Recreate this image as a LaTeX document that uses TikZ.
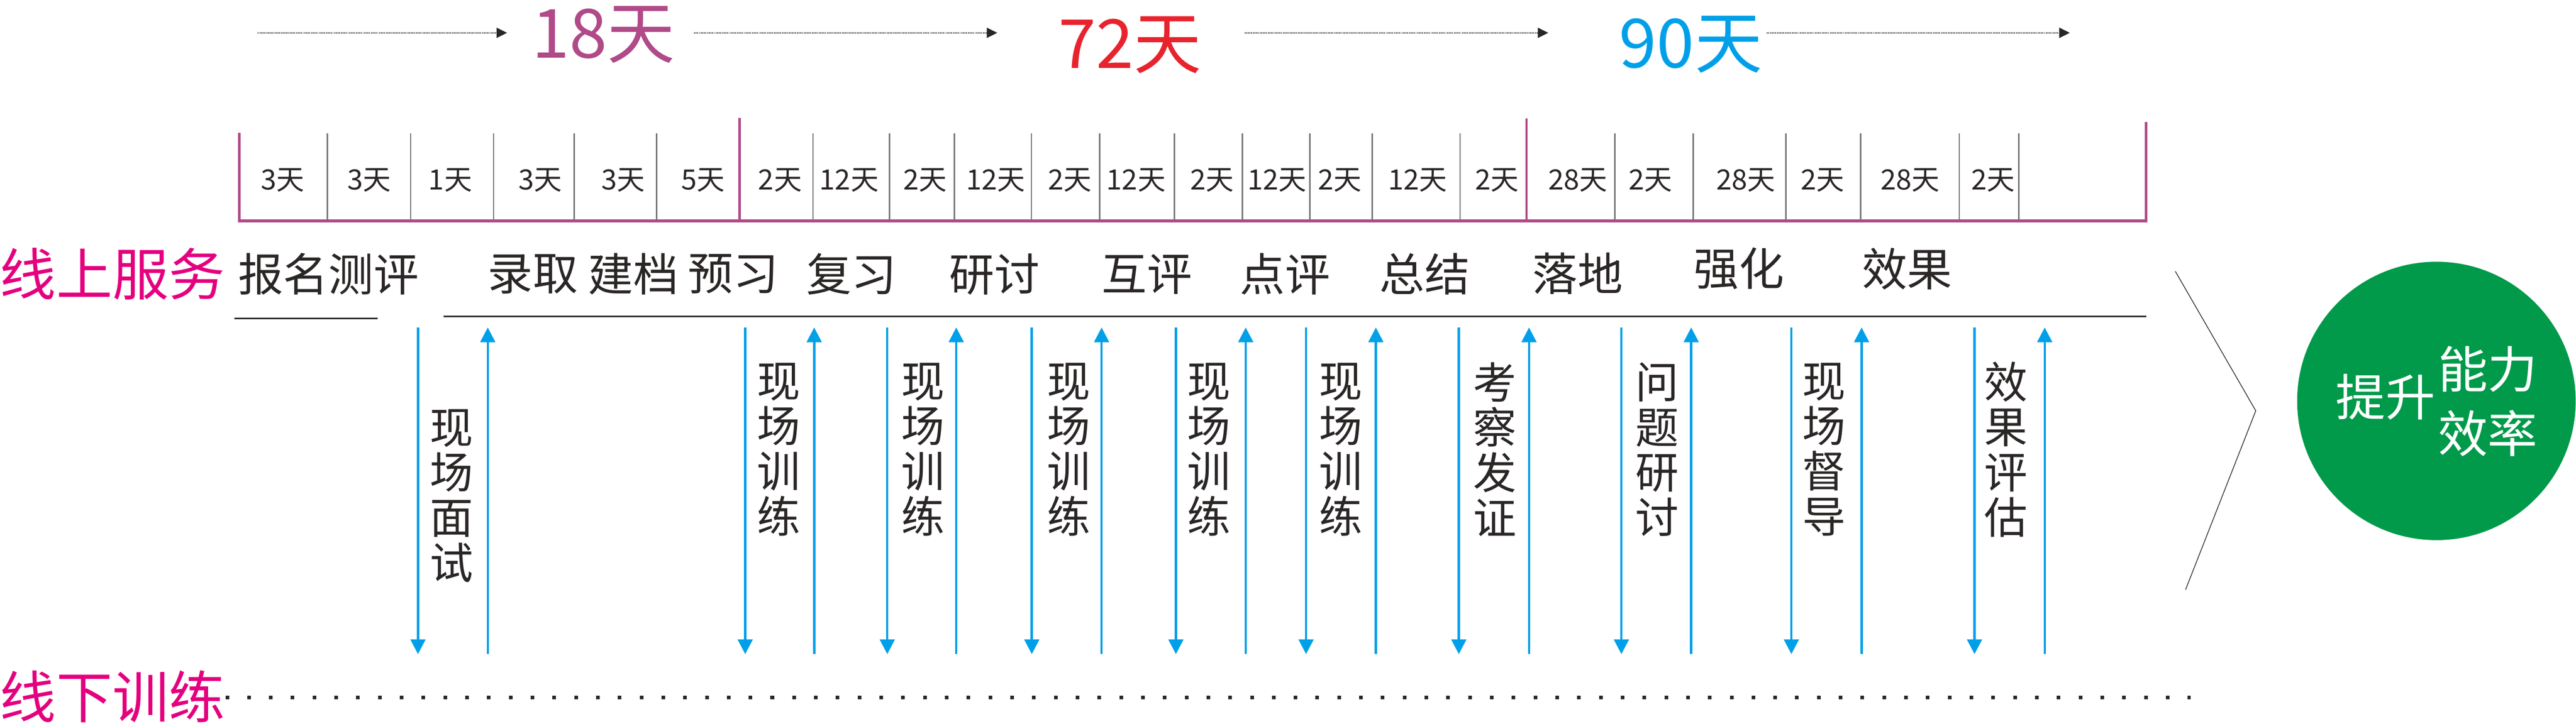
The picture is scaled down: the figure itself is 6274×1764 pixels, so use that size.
\documentclass[tikz,border=0pt]{standalone}
\usepackage{fontspec}
\setmainfont{Noto Sans CJK SC}
\usepackage{tikz}
\usetikzlibrary{arrows.meta}
\definecolor{stagepurple}{HTML}{B04A88}
\definecolor{rosered}{HTML}{E4007F}
\definecolor{dayred}{HTML}{E8232E}
\definecolor{skyblue}{HTML}{00A0E9}
\definecolor{inkgray}{HTML}{2B2626}
\definecolor{tickgray}{HTML}{777777}
\definecolor{leafgreen}{HTML}{009A4A}

\begin{document}
\begin{tikzpicture}[x=0.01cm,y=-0.01cm,
  every node/.style={inner sep=0pt,text=inkgray},
  daycount/.style={font=\fontsize{47}{50}\selectfont},
  headword/.style={text=rosered,font=\fontsize{39}{42}\selectfont},
  stageword/.style={font=\fontsize{31.3}{34}\selectfont},
  dayslot/.style={font=\fontsize{19.4}{22}\selectfont},
  vtext/.style={align=center,font=\fontsize{30}{31.3}\selectfont},
  goalword/.style={text=white,font=\fontsize{34.5}{37}\selectfont},
  timeline/.style={draw=inkgray,line width=0.65pt,dash pattern=on 0.7pt off 0.45pt,
    -{Triangle[length=7.3pt,width=7.1pt]}},
  godown/.style={draw=skyblue,line width=1.6pt,-{Triangle[length=10.2pt,width=10.2pt]}},
  goup/.style={godown},
  tick/.style={draw=tickgray,line width=1pt},
  bar/.style={draw=stagepurple,line width=1.6pt},
  rule/.style={draw=inkgray,line width=1pt}]
 \useasboundingbox (0,0) rectangle (6274,1764);

 % day counts and timeline
 \draw (1470,84) node[daycount,text=stagepurple] (d18) {18天};
 \draw (2752,110) node[daycount,text=dayred] (d72) {72天};
 \draw (4118,108) node[daycount,text=skyblue] (d90) {90天};
 \coordinate (ta) at (628,80);  \coordinate (tb) at (1235,80);
 \coordinate (tc) at (1690,80); \coordinate (td) at (2429,80);
 \coordinate (te) at (3031,80); \coordinate (tf) at (3771,80);
 \coordinate (tg) at (4303,80); \coordinate (th) at (5041,80);
 \draw[timeline] (ta) -- (tb);
 \draw[timeline] (tc) -- (td);
 \draw[timeline] (te) -- (tf);
 \draw[timeline] (tg) -- (th);

 % bracket of days
 \foreach \xg in {797,1000,1202,1398,1599,1980,2166,2324,2512,2678,2860,3026,3190,3342,3556,3933,4124,4350,4532,4772,4917}
   \draw[tick] (\xg,325) -- (\xg,536);
 \draw[bar] (583,324) -- (583,536);
 \draw[bar] (1801,287) -- (1801,536);
 \draw[bar] (3718,288) -- (3718,536);
 \draw[bar] (5227,298) -- (5227,536);
 \draw[stagepurple,line width=2.3pt] (580,538) -- (5230,538);

 \draw (689,439) node[dayslot] (s1) {3天};
 \draw (899,439) node[dayslot] (s2) {3天};
 \draw (1097,439) node[dayslot] (s3) {1天};
 \draw (1316,439) node[dayslot] (s4) {3天};
 \draw (1518,439) node[dayslot] (s5) {3天};
 \draw (1712,439) node[dayslot] (s6) {5天};
 \draw (1900,439) node[dayslot] (s7) {2天};
 \draw (2068,439) node[dayslot] (s8) {12天};
 \draw (2253,439) node[dayslot] (s9) {2天};
 \draw (2425,439) node[dayslot] (s10) {12天};
 \draw (2606,439) node[dayslot] (s11) {2天};
 \draw (2767,439) node[dayslot] (s12) {12天};
 \draw (2952,439) node[dayslot] (s13) {2天};
 \draw (3110,439) node[dayslot] (s14) {12天};
 \draw (3263,439) node[dayslot] (s15) {2天};
 \draw (3453,439) node[dayslot] (s16) {12天};
 \draw (3646,439) node[dayslot] (s17) {2天};
 \draw (3843,439) node[dayslot] (s18) {28天};
 \draw (4020,439) node[dayslot] (s19) {2天};
 \draw (4252,439) node[dayslot] (s20) {28天};
 \draw (4439,439) node[dayslot] (s21) {2天};
 \draw (4652,439) node[dayslot] (s22) {28天};
 \draw (4854,439) node[dayslot] (s23) {2天};

 % online steps
 \draw (274,668) node[headword] (online) {线上服务};
 \draw (800,668) node[stageword] (baoming) {报名测评};
 \draw (1298,668) node[stageword] (luqu) {录取};
 \draw (1543,668) node[stageword] (jiandang) {建档};
 \draw (1786,668) node[stageword] (yuxi) {预习};
 \draw (2074,668) node[stageword] (fuxi) {复习};
 \draw (2422,668) node[stageword] (yantao) {研讨};
 \draw (2794,668) node[stageword] (huping) {互评};
 \draw (3130,668) node[stageword] (dianping) {点评};
 \draw (3470,668) node[stageword] (zongjie) {总结};
 \draw (3843,667) node[stageword] (luodi) {落地};
 \draw (4235,655) node[stageword] (qianghua) {强化};
 \draw (4645,655) node[stageword] (xiaoguo) {效果};
 \draw[rule] (571,776) -- (920,776);
 \draw[rule] (1080,771) -- (5227,771);

 % offline training
 \foreach \dn/\up [count=\i] in {1018/1188,1815/1983,2161/2329,2513/2683,2864/3034,3181/3351,3553/3724,3949/4119,4363/4534,4809/4980} {
   \coordinate (dtop\i) at (\dn,798); \coordinate (dbot\i) at (\dn,1594);
   \coordinate (utop\i) at (\up,798); \coordinate (ubot\i) at (\up,1594);
   \draw[godown] (dtop\i) -- (dbot\i);
   \draw[goup] (ubot\i) -- (utop\i);
 }
 \draw (1100,1208) node[vtext] (mianshi) {现\\场\\面\\试};
 \draw (1897,1095) node[vtext] (xunlian1) {现\\场\\训\\练};
 \draw (2248,1095) node[vtext] (xunlian2) {现\\场\\训\\练};
 \draw (2603,1095) node[vtext] (xunlian3) {现\\场\\训\\练};
 \draw (2944,1095) node[vtext] (xunlian4) {现\\场\\训\\练};
 \draw (3266,1095) node[vtext] (xunlian5) {现\\场\\训\\练};
 \draw (3641,1095) node[vtext] (kaocha) {考\\察\\发\\证};
 \draw (4036,1095) node[vtext] (wenti) {问\\题\\研\\讨};
 \draw (4442,1095) node[vtext] (dudao) {现\\场\\督\\导};
 \draw (4885,1095) node[vtext] (pinggu) {效\\果\\评\\估};

 \draw (274,1697) node[headword] (offline) {线下训练};
 \coordinate (dotl) at (549,1699); \coordinate (dotr) at (5335,1699);
 \draw[inkgray,line width=2.5pt,dash pattern=on 2.5pt off 12.6pt] (dotl) -- (dotr);

 % goal
 \coordinate (cv1) at (5298,661); \coordinate (cv2) at (5494,1001); \coordinate (cv3) at (5323,1437);
 \draw[inkgray,line width=0.5pt] (cv1) -- (cv2) -- (cv3);
 \draw (5934,977) node[circle,fill=leafgreen,minimum size=6.78cm] (goal) {};
 \draw (5810,967) node[goalword] (tisheng) {提升};
 \draw (6059,900) node[goalword] (nengli) {能力};
 \draw (6059,1056) node[goalword] (xiaolv) {效率};
\end{tikzpicture}
\end{document}
